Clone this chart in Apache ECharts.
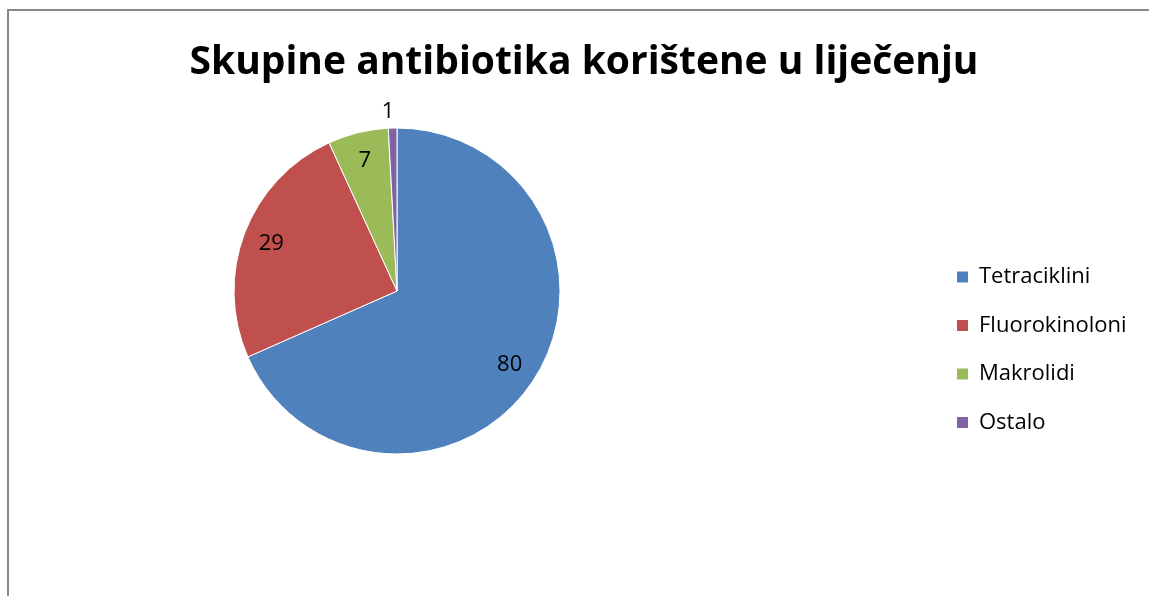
<!DOCTYPE html>
<html><head><meta charset="utf-8">
<script src="https://cdn.jsdelivr.net/npm/echarts@6/dist/echarts.min.js"></script>
<style>html,body{margin:0;padding:0;background:#fff}#c{width:1149px;height:596px}</style>
</head><body><div id="c"></div>
<script>
const titleText = 'Skupine antibiotika korištene u liječenju';
const categories = ['Tetraciklini', 'Fluorokinoloni', 'Makrolidi', 'Ostalo'];
const values = [80, 29, 7, 1];
const colors = ['#4F81BD', '#C0504D', '#9BBB59', '#8064A2'];
const outerLabelItems = ['Ostalo'];

const font = '"Open Sans", "Noto Sans", sans-serif';
const data = categories.map((c, i) => ({ name: c, value: values[i], itemStyle: { color: colors[i] } }));
const center = [397, 291];
const R = 163;

const chart = echarts.init(document.getElementById('c'));
chart.setOption({
  animation: false,
  backgroundColor: '#fff',
  title: {
    text: titleText, left: 579, top: 38, textAlign: 'center',
    textStyle: { fontFamily: font, fontWeight: 'bold', fontSize: 39, color: '#000' }
  },
  legend: {
    orient: 'vertical', left: 957, top: 266, padding: 0,
    itemWidth: 11, itemHeight: 11, itemGap: 26.5, icon: 'rect',
    itemStyle: { borderWidth: 0 },
    data: categories,
    textStyle: { fontFamily: font, fontSize: 22, color: '#000', lineHeight: 22, padding: [0, 0, 0, 6] }
  },
  graphic: [{
    type: 'rect', silent: true, z: -1,
    shape: { x: 8, y: 10, width: 1300, height: 800 },
    style: { fill: 'none', stroke: '#898989', lineWidth: 2 }
  }],
  series: [
    {
      type: 'pie', center: center, radius: [0, R], startAngle: 90, clockwise: true,
      data: data, label: { show: false }, labelLine: { show: false },
      itemStyle: { borderColor: '#ffffff', borderWidth: 1 }
    },
    {
      type: 'pie', center: center, radius: [100, R], startAngle: 90, clockwise: true, silent: true,
      legendHoverLink: false, z: 5,
      data: categories.map((c, i) => ({ name: c, value: values[i],
        label: { show: !outerLabelItems.includes(c) } })),
      itemStyle: { color: 'rgba(0,0,0,0)', borderWidth: 0 },
      label: { show: true, position: 'inside', formatter: '{c}', fontFamily: font, fontSize: 22, color: '#000' },
      labelLine: { show: false }
    },
    {
      type: 'pie', center: center, radius: [R, R + 30], startAngle: 90, clockwise: true, silent: true,
      legendHoverLink: false, z: 5,
      data: categories.map((c, i) => ({ name: c, value: values[i],
        label: { show: outerLabelItems.includes(c) } })),
      itemStyle: { color: 'rgba(0,0,0,0)', borderWidth: 0 },
      label: { show: true, position: 'inside', formatter: '{c}', offset: [-4, 2], fontFamily: font, fontSize: 22, color: '#000' },
      labelLine: { show: false }
    }
  ]
});
</script></body></html>
